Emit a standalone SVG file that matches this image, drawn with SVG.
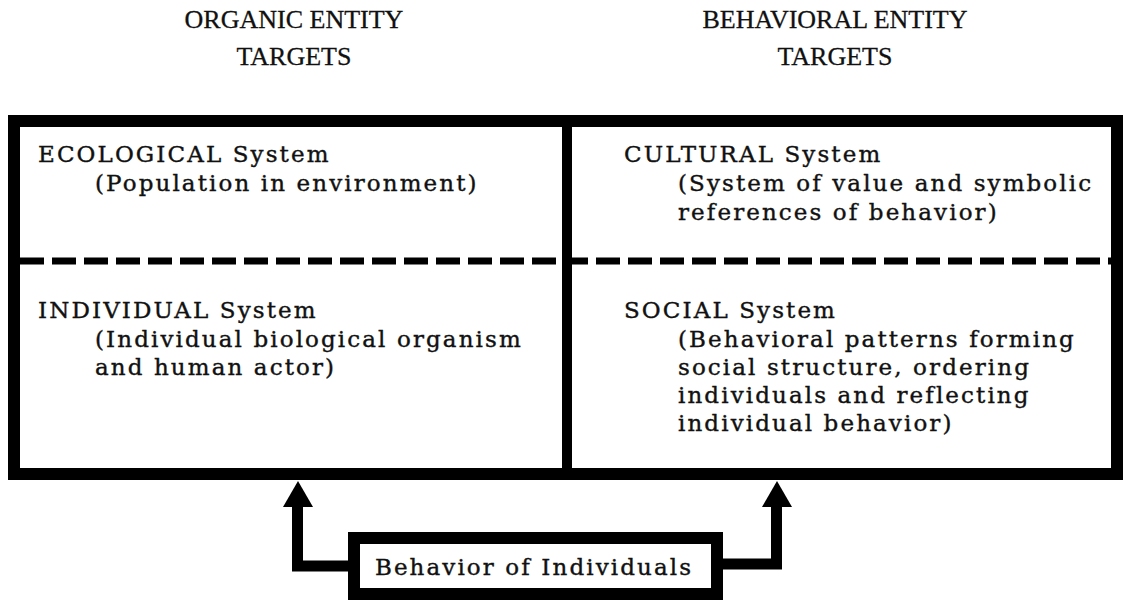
<svg xmlns="http://www.w3.org/2000/svg" width="1123" height="601" viewBox="0 0 1123 601">
<style>
.title{font-family:"Liberation Serif",serif;font-size:26px;fill:#111;stroke:#111;stroke-width:0.3;text-anchor:middle}
.body{font-family:"DejaVu Serif",serif;font-size:23px;letter-spacing:2.1px;fill:#111;stroke:#111;stroke-width:0.4}
.frame{fill:none;stroke:#000;stroke-width:12}
.dash{stroke:#000;stroke-width:7;stroke-dasharray:24 8}
.conn{fill:none;stroke:#000;stroke-width:11;stroke-linejoin:miter}
</style>
<rect width="1123" height="601" fill="#fff"/>
<g id="headers">
<text class="title" x="294" y="28">ORGANIC ENTITY</text>
<text class="title" x="294" y="65">TARGETS</text>
<text class="title" x="835" y="28">BEHAVIORAL ENTITY</text>
<text class="title" x="835" y="65">TARGETS</text>
</g>
<g id="frame">
<rect class="frame" x="14" y="121" width="1103" height="353"/>
<line x1="567" y1="121" x2="567" y2="474" stroke="#000" stroke-width="10"/>
<line class="dash" x1="20" y1="261" x2="1111" y2="261"/>
</g>
<g id="ecological">
<text class="body" x="38" y="162">ECOLOGICAL System</text>
<text class="body" x="95" y="191">(Population in environment)</text>
</g>
<g id="cultural">
<text class="body" x="624" y="162">CULTURAL System</text>
<text class="body" x="678" y="191">(System of value and symbolic</text>
<text class="body" x="678" y="220">references of behavior)</text>
</g>
<g id="individual">
<text class="body" x="38" y="318">INDIVIDUAL System</text>
<text class="body" x="95" y="347">(Individual biological organism</text>
<text class="body" x="95" y="375">and human actor)</text>
</g>
<g id="social">
<text class="body" x="624" y="318">SOCIAL System</text>
<text class="body" x="678" y="347">(Behavioral patterns forming</text>
<text class="body" x="678" y="375">social structure, ordering</text>
<text class="body" x="678" y="403">individuals and reflecting</text>
<text class="body" x="678" y="431">individual behavior)</text>
</g>
<g id="behavior">
<rect x="354" y="538" width="363" height="56" fill="#fff" stroke="#000" stroke-width="12"/>
<text class="body" x="534" y="575" text-anchor="middle">Behavior of Individuals</text>
</g>
<g id="connectors">
<path class="conn" d="M348 566 H297.5 V500"/>
<polygon points="298,481 283,507 313,507"/>
<path class="conn" d="M723 564 H776.5 V500"/>
<polygon points="777,481 762,507 792,507"/>
</g>
</svg>
